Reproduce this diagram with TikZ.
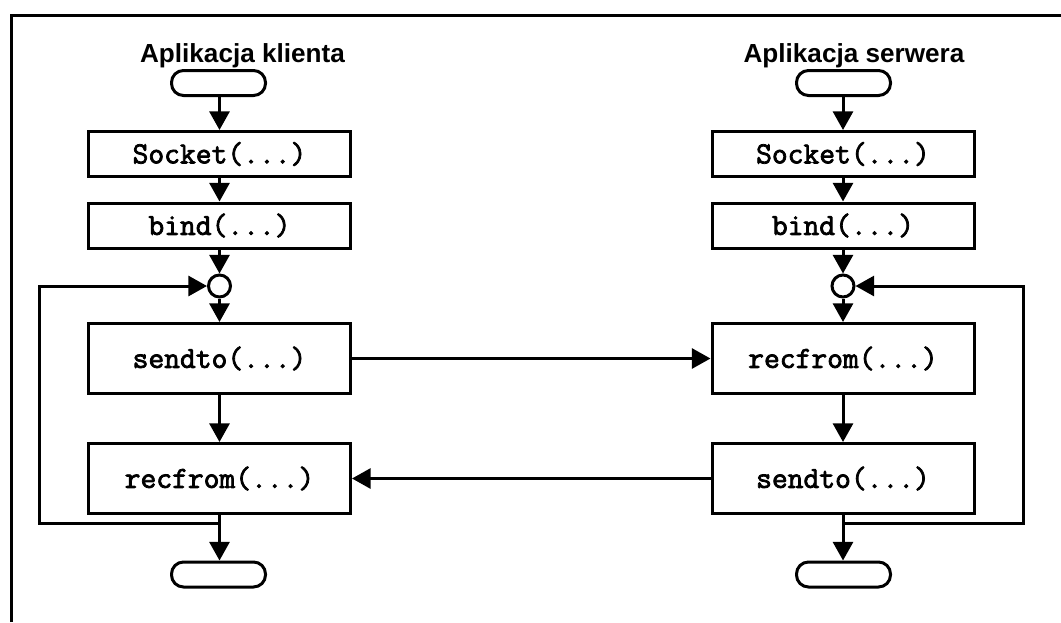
\documentclass[tikz,border=0pt]{standalone}
\usepackage{fontspec}
\setmainfont{Liberation Sans}
\newfontfamily\codefont[FakeBold=2.5]{Latin Modern Mono}
\usetikzlibrary{arrows.meta}
\begin{document}
\begin{tikzpicture}[x=0.75pt,y=-0.75pt,
  every node/.style={line width=2.25pt},
  lw/.style={line width=2.25pt},
  box/.style={draw,lw,rectangle,minimum width=196.5pt,inner sep=0pt,font=\codefont\fontsize{23}{26}\selectfont},
  smallbox/.style={box,minimum height=33.75pt},
  bigbox/.style={box,minimum height=52.5pt},
  term/.style={draw,lw,rectangle,rounded corners=9pt,minimum width=70.5pt,minimum height=18.75pt,inner sep=0pt},
  junc/.style={draw,lw,circle,minimum size=16.5pt,inner sep=0pt,fill=white},
  title/.style={font=\bfseries\fontsize{19.6}{22}\selectfont,anchor=base,inner sep=0pt},
  arr/.style={lw,-{Triangle[length=14pt,width=15pt]}},
  conn/.style={lw}]
\useasboundingbox (0,0) rectangle (1061,622);
\draw[lw] (11,622) -- (11,15) -- (1061,15);

% client
\node[title] (tL) at (242.5,62) {Aplikacja klienta};
\node[term] (startL) at (218.5,83) {};
\node[smallbox] (sockL) at (219.5,154) {Socket(...)};
\node[smallbox] (bindL) at (219.5,225.5) {bind(...)};
\node[junc] (jL) at (219.5,286) {};
\node[bigbox] (sendL) at (219.5,358.5) {sendto(...)};
\node[bigbox] (recvL) at (219.5,478.5) {recfrom(...)};
\node[term] (endL) at (218.5,574.5) {};
\coordinate (lbL) at (219.5,523);
\coordinate (loopL) at (39,523);

% server
\node[title] (tR) at (854,62) {Aplikacja serwera};
\node[term] (startR) at (843.5,83) {};
\node[smallbox] (sockR) at (843,154) {Socket(...)};
\node[smallbox] (bindR) at (843,225.5) {bind(...)};
\node[junc] (jR) at (843,286) {};
\node[bigbox] (recvR) at (843,358.5) {recfrom(...)};
\node[bigbox] (sendR) at (843,478.5) {sendto(...)};
\node[term] (endR) at (843.5,574.5) {};
\coordinate (lbR) at (843,523);
\coordinate (loopR) at (1023,523);

% client flow
\draw[arr] (startL.south -| jL) -- (sockL.north -| jL);
\draw[arr] (sockL) -- (bindL);
\draw[arr] (bindL) -- (jL);
\draw[arr] (jL) -- (sendL);
\draw[arr] (sendL) -- (recvL);
\draw[arr] (recvL.south) -- (endL.north -| recvL.south);
\draw[arr] (lbL) -- (loopL) |- (jL.west);

% server flow
\draw[arr] (startR.south -| jR) -- (sockR.north -| jR);
\draw[arr] (sockR) -- (bindR);
\draw[arr] (bindR) -- (jR);
\draw[arr] (jR) -- (recvR);
\draw[arr] (recvR) -- (sendR);
\draw[arr] (sendR.south) -- (endR.north -| sendR.south);
\draw[arr] (lbR) -- (loopR) |- (jR.east);

% messages
\draw[arr] (sendL.east) -- (recvR.west);
\draw[arr] (sendR.west) -- (recvL.east);
\end{tikzpicture}
\end{document}
